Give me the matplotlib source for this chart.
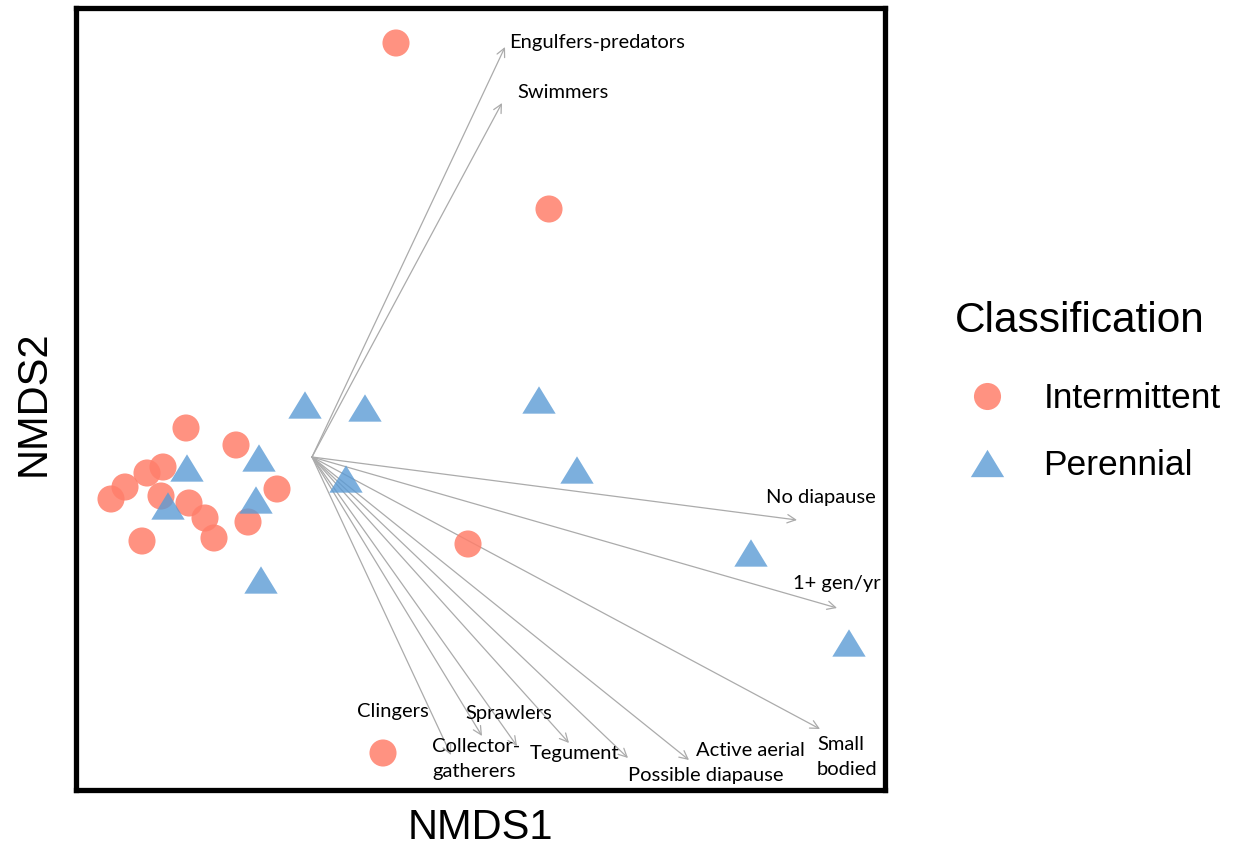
import matplotlib
matplotlib.use("Agg")
import matplotlib.pyplot as plt
from matplotlib.lines import Line2D
from matplotlib.path import Path

# ---- data (site scores, NMDS space; arbitrary units) ----
intermittent_x = [84, 237, 156, 71, -126, -76, -149, -165, -187, -201, -151, -123, -107, -98, -170, -64, -35]
intermittent_y = [414, 248, -87, -296, 29, 12, -10, -16, -30, -42, -39, -46, -61, -81, -84, -65, -32]

perennial_x = [-7, 53, -53, -125, -144, -56, 34, -51, 227, 265, 439, 537]
perennial_y = [52, 49, -1, -11, -49, -43, -22, -123, 57, -13, -96, -186]

# trait vectors (arrow tips from origin)
traits = ["Engulfers-predators", "Swimmers", "No diapause", "1+ gen/yr", "Small\nbodied",
          "Active aerial", "Possible diapause", "Tegument", "Sprawlers",
          "Collector-\ngatherers", "Clingers"]
trait_x = [193, 190, 485, 525, 508, 377, 316, 257, 205, 170, 139]
trait_y = [410, 354, -63, -151, -272, -303, -301, -286, -289, -279, -298]

# ---- layout (label anchor positions, left-center) ----
label_x = [197, 205, 454, 481, 505, 384, 316, 218, 153, 120, 45]
label_y = [414, 364, -40, -126, -300, -293, -318, -296, -256, -302, -254]

circle_color = "#FF7F6B"
tri_color = "#5B9BD5"

fig = plt.figure(figsize=(12.36, 8.47), dpi=100)
ax = fig.add_axes([76/1236, 1 - 790/847, (885-76)/1236, (790-8)/847])
ax.set_xlim(76-312, 885-312)
ax.set_ylim(457-790, 457-8)
ax.set_xticks([])
ax.set_yticks([])
for s in ax.spines.values():
    s.set_linewidth(3.8)
    s.set_color("black")

# triangle marker wider than tall
tri = Path([(0, 0.82), (-1, -0.82), (1, -0.82), (0, 0.82)],
           [Path.MOVETO, Path.LINETO, Path.LINETO, Path.CLOSEPOLY])

for tx, ty in zip(trait_x, trait_y):
    ax.annotate("", xy=(tx, ty), xytext=(0, 0),
                arrowprops=dict(arrowstyle="->", color="#ABABAB", lw=0.9,
                                shrinkA=0, shrinkB=0, mutation_scale=15))

ax.scatter(intermittent_x, intermittent_y, s=19.5**2, marker="o", color=circle_color,
           alpha=0.85, edgecolors="none", zorder=3)
ax.scatter(perennial_x, perennial_y, s=24**2, marker=tri, color=tri_color,
           alpha=0.8, edgecolors="none", zorder=3)

for name, lx, ly in zip(traits, label_x, label_y):
    ax.text(lx, ly, name, ha="left", va="center", fontsize=14.5, family="Lato",
            linespacing=1.55, zorder=4)

ax.set_xlabel("NMDS1", fontsize=30, family="Liberation Sans")
ax.set_ylabel("NMDS2", fontsize=30, family="Liberation Sans")
ax.xaxis.set_label_coords(0.5, (790-828)/782)
ax.xaxis.label.set_va("center")
ax.yaxis.set_label_coords((34-76)/809, (790-403)/782)
ax.yaxis.label.set_va("center")

fig.text(955/1236, 1 - 321/847, "Classification", ha="left", va="center",
         fontsize=30.5, family="Liberation Sans")

handles = [Line2D([], [], marker="o", ls="none", color=circle_color, alpha=0.85,
                  markersize=19.5, markeredgewidth=0),
           Line2D([], [], marker=tri, ls="none", color=tri_color, alpha=0.8,
                  markersize=24, markeredgewidth=0)]
leg = fig.legend(handles, ["Intermittent", "Perennial"],
                 loc="center left", bbox_to_anchor=(953/1236, 1 - 432/847),
                 frameon=False, prop={"family": "Liberation Sans", "size": 25.5},
                 handlelength=1.9, handletextpad=0.65, labelspacing=0.96,
                 borderpad=0, borderaxespad=0)

fig.savefig("out.png", dpi=100)
